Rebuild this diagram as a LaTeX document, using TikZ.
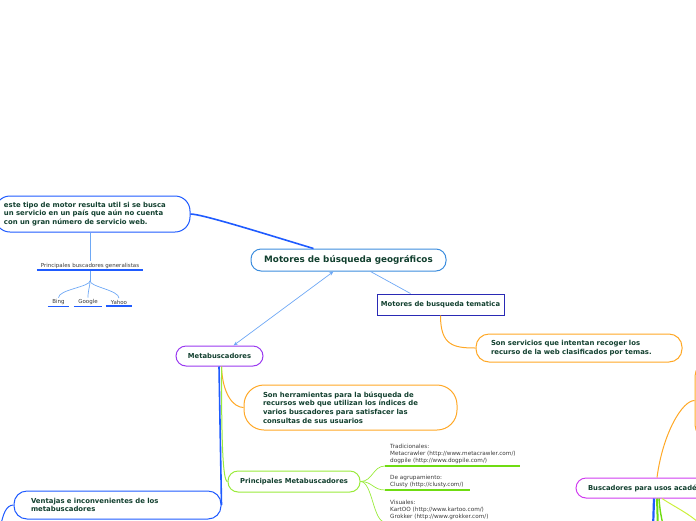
\documentclass[tikz,border=0pt]{standalone}
\usepackage{fontspec}
\setmainfont{DejaVu Sans}
\usepackage{xcolor}
\usepackage{tikz}
\usetikzlibrary{positioning, arrows.meta}

\definecolor{txtverde}{HTML}{12402F}
\definecolor{txtgris}{HTML}{3A3A3A}
\definecolor{azul}{HTML}{1F5BFF}
\definecolor{azulmain}{HTML}{3C8DDE}
\definecolor{azulclaro}{HTML}{6EA8F5}
\definecolor{azulosc}{HTML}{2A2AB5}
\definecolor{naranja}{HTML}{FFA826}
\definecolor{morado}{HTML}{9A3AF0}
\definecolor{verde}{HTML}{9AEB3C}
\definecolor{verdeosc}{HTML}{6FDC12}
\definecolor{magenta}{HTML}{D03CF0}
\definecolor{amarillo}{HTML}{CCF03C}

\tikzset
{
    topic/.style={draw, fill=white, rounded corners=10pt, line width=1pt, text=txtverde,
        font=\bfseries\fontsize{6.8}{8}\selectfont}, % titulos de rama
    nota/.style={draw, fill=white, line width=1pt, align=left, text=txtverde,
        font=\bfseries\fontsize{6.9}{8.6}\selectfont}, % cuadros de texto
    chico/.style={text=txtgris, inner sep=1.5pt, font=\fontsize{5.5}{7}\selectfont},
    item/.style={text=txtgris, align=left, inner xsep=5pt, inner ysep=2pt, font=\fontsize{5.7}{7}\selectfont},
    conn/.style={line width=1pt},
    linea/.style={azulclaro, line width=0.7pt},
    subr/.style={azul, line width=1.5pt},
    subv/.style={verdeosc, line width=1.6pt},
}

\begin{document}
\begin{tikzpicture}[x=1pt, y=-1pt]
    \clip (0,0) rectangle (696,520);

    % Nodos
    \node[topic, draw=azulmain, minimum width=195, minimum height=22, font=\bfseries\fontsize{8.8}{10}\selectfont] (cen) at (348.5,260) {Motores de búsqueda geográficos};
    \node[nota, draw=azul, text width=177, inner xsep=9, minimum height=36, rounded corners=15] (util) at (92.5,214) {este tipo de motor resulta util si se busca\\un servicio en un país que aún no cuenta\\con un gran número de servicio web.};
    \node[chico, minimum width=106] (gen) at (90,265.5) {Principales buscadores generalistas};
    \node[chico, minimum width=21] (bing) at (58.5,302) {Bing};
    \node[chico, minimum width=28] (google) at (88,302) {Google};
    \node[chico, minimum width=26] (yahoo) at (119,302) {Yahoo};

    \node[topic, draw=azulosc, rounded corners=0, minimum width=127, minimum height=21] (tema) at (440.5,304.5) {Motores de busqueda tematica};
    \node[nota, draw=naranja, text width=176, inner xsep=15, minimum height=28, rounded corners=13] (serv) at (579,348) {Son servicios que intentan recoger los\\recurso de la web clasificados por temas.};

    \node[topic, draw=morado, minimum width=87, minimum height=20] (meta) at (219.5,356) {Metabuscadores};
    \node[nota, draw=naranja, text width=175, inner xsep=19, minimum height=45, rounded corners=20] (herr) at (350.5,407.5) {Son herramientas para la búsqueda de\\recursos web que utilizan los índices de\\varios buscadores para satisfacer las\\consultas de sus usuarios};
    \node[topic, draw=verde, minimum width=132, minimum height=21] (princ) at (294,481.5) {Principales Metabuscadores};
    \node[item, anchor=south west] (trad) at (385,466) {Tradicionales:\\Metacrawler (http://www.metacrawler.com/)\\dogpile (http://www.dogpile.com/)};
    \node[item, anchor=south west] (agrup) at (385,490) {De agrupamiento:\\Clusty (http://clusty.com/)};
    \node[item, anchor=south west] (visu) at (385,522) {Visuales:\\KartOO (http://www.kartoo.com/)\\Grokker (http://www.grokker.com/)};
    \node[nota, draw=azul, text width=173, inner xsep=17, minimum height=28, rounded corners=13] (vent) at (117.5,505) {Ventajas e inconvenientes de los\\metabuscadores};

    \node[topic, draw=magenta, align=left, text width=176, inner xsep=12, minimum height=20] (acad) at (676,488) {Buscadores para usos académicos};
    \node[nota, draw=naranja, minimum width=205, minimum height=75, rounded corners=13] (acadnota) at (797.5,400.5) {};

    % Conexiones
    \draw[conn, azul, line width=1.6pt] (util.east) .. controls +(12,0) and +(-40,-12) .. ([xshift=-35pt]cen.north);
    \draw[linea] (gen.north |- util.south) -- (gen.north);
    \draw[linea] (gen.south) -- ++(0,11) coordinate (fork);
    \foreach \n in {bing,google,yahoo}
        \draw[linea] (fork) .. controls +(0,6) and +(0,-8) .. (\n.north);
    \foreach \n in {gen,bing,google,yahoo}
        \draw[subr] (\n.south west) -- (\n.south east);

    \draw[linea] ([xshift=22pt]cen.south) -- ([xshift=-30pt]tema.north);
    \draw[conn, naranja] (tema.south) .. controls +(0,30) and +(-22,0) .. (serv.west);
    \draw[linea, {Stealth[length=4.5pt,width=3.5pt]}-{Stealth[length=4.5pt,width=3.5pt]}] ([xshift=-15pt]cen.south) -- ([xshift=14pt]meta.north);

    \draw[conn, azul, line width=1.6pt] ([xshift=-0.5pt]meta.south) -- (vent.east);
    \draw[conn, naranja] ([xshift=2pt]meta.south) .. controls +(1,28) and +(-10,0) .. (herr.west);
    \draw[conn, verde] ([xshift=2pt]meta.south) .. controls +(0,70) and +(-5,0) .. (princ.west);
    \foreach \n in {trad,agrup,visu}
        \draw[conn, verde, line width=0.7pt] (princ.east) .. controls +(12,0) and +(-12,0) .. (\n.south west);
    \draw[subv] (trad.south west) -- ++(135,0);
    \draw[subv] (agrup.south west) -- ++(85,0);
    \draw[subv] (visu.south west) -- ++(90,0);

    \coordinate (ventsal) at (1,524);
    \draw[conn, azul] (vent.west) .. controls +(-8,0) and +(2,-8) .. (ventsal);

    % Rama de la derecha (cortada)
    \coordinate (bajo1) at (653,530);
    \coordinate (bajo2) at (658,530);
    \coordinate (bajo3) at (664,530);
    \coordinate (bajo4) at (700,524);
    \draw[conn, naranja] ([xshift=-19pt]acad.north) .. controls +(6,-45) and +(-12,0) .. (acadnota.west);
    \draw[azul, line width=2.2pt] ([xshift=-22pt]acad.south) -- (bajo1);
    \draw[verdeosc, line width=2pt] ([xshift=-19pt]acad.south) -- (bajo2);
    \draw[verdeosc, line width=1.4pt] ([xshift=-17pt]acad.south) .. controls +(1,12) .. (bajo3);
    \draw[amarillo, line width=1pt] ([xshift=-14pt]acad.south) .. controls +(12,8) and +(-10,-10) .. (bajo4);
\end{tikzpicture}
\end{document}
